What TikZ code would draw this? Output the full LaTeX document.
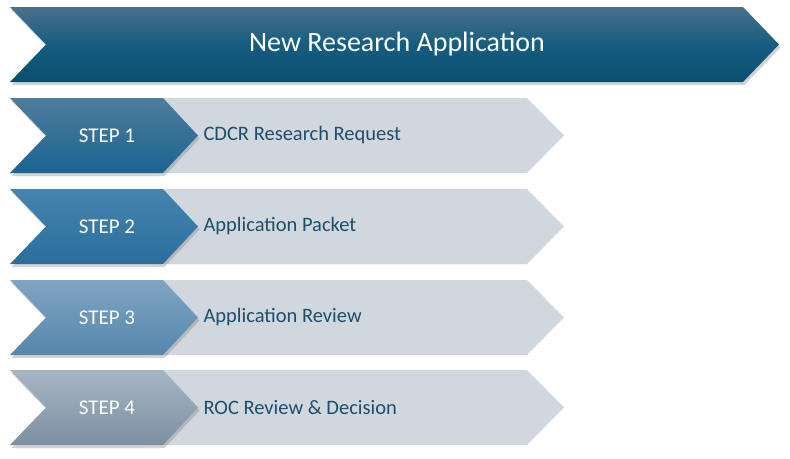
\documentclass[tikz,border=0pt]{standalone}
\usepackage{fontspec}
\setmainfont{Carlito}
\usetikzlibrary{shadows}
\definecolor{bannertop}{HTML}{4A7189}
\definecolor{bannermid}{HTML}{165D80}
\definecolor{bannerbot}{HTML}{0A4E6E}
\definecolor{greybody}{HTML}{D0D7DE}
\definecolor{labeltext}{HTML}{1F4E6B}
\definecolor{oneTop}{HTML}{4F7C9B}
\definecolor{oneBot}{HTML}{1B6592}
\definecolor{twoTop}{HTML}{4784AE}
\definecolor{twoBot}{HTML}{2A6E9E}
\definecolor{threeTop}{HTML}{80A5C2}
\definecolor{threeBot}{HTML}{5686AC}
\definecolor{fourTop}{HTML}{A6B5C4}
\definecolor{fourBot}{HTML}{7C90A2}
\begin{document}
\begin{tikzpicture}[x=1pt,y=-1pt,
    shade/.style={drop shadow={shadow xshift=1.5pt,shadow yshift=-3pt,opacity=0.35}},
    steptext/.style={text=white,font=\fontsize{21}{24}\selectfont},
    labeltxt/.style={anchor=west,text=labeltext,font=\fontsize{20.5}{24}\selectfont}]
  \useasboundingbox (0,0) rectangle (790,458);
  % banner
  \path[shade,top color=bannertop,bottom color=bannerbot,middle color=bannermid]
    (10,7) -- (743,7) -- (779,44.5) -- (743,82) -- (10,82) -- (46,44.5) -- cycle;
  \node[text=white,font=\fontsize{28}{32}\selectfont] (title) at (397,44.5) {New Research Application};
  % step 1
  \fill[greybody] (150,98) -- (527,98) -- (564,135.5) -- (527,173) -- (150,173) -- cycle;
  \path[shade,top color=oneTop,bottom color=oneBot]
    (10,98) -- (163,98) -- (198,135.5) -- (163,173) -- (10,173) -- (46,135.5) -- cycle;
  \node[steptext] (s1) at (107,135.5) {STEP 1};
  \node[labeltxt] (l1) at (200,135.5) {CDCR Research Request};
  % step 2
  \fill[greybody] (150,189) -- (527,189) -- (564,226.5) -- (527,264) -- (150,264) -- cycle;
  \path[shade,top color=twoTop,bottom color=twoBot]
    (10,189) -- (163,189) -- (198,226.5) -- (163,264) -- (10,264) -- (46,226.5) -- cycle;
  \node[steptext] (s2) at (107,226.5) {STEP 2};
  \node[labeltxt] (l2) at (200,226.5) {Application Packet};
  % step 3
  \fill[greybody] (150,280) -- (527,280) -- (564,317.5) -- (527,355) -- (150,355) -- cycle;
  \path[shade,top color=threeTop,bottom color=threeBot]
    (10,280) -- (163,280) -- (198,317.5) -- (163,355) -- (10,355) -- (46,317.5) -- cycle;
  \node[steptext] (s3) at (107,317.5) {STEP 3};
  \node[labeltxt] (l3) at (200,317.5) {Application Review};
  % step 4
  \fill[greybody] (150,370) -- (527,370) -- (564,407.5) -- (527,445) -- (150,445) -- cycle;
  \path[shade,top color=fourTop,bottom color=fourBot]
    (10,370) -- (163,370) -- (198,407.5) -- (163,445) -- (10,445) -- (46,407.5) -- cycle;
  \node[steptext] (s4) at (107,407.5) {STEP 4};
  \node[labeltxt] (l4) at (200,407.5) {ROC Review \& Decision};
\end{tikzpicture}
\end{document}
